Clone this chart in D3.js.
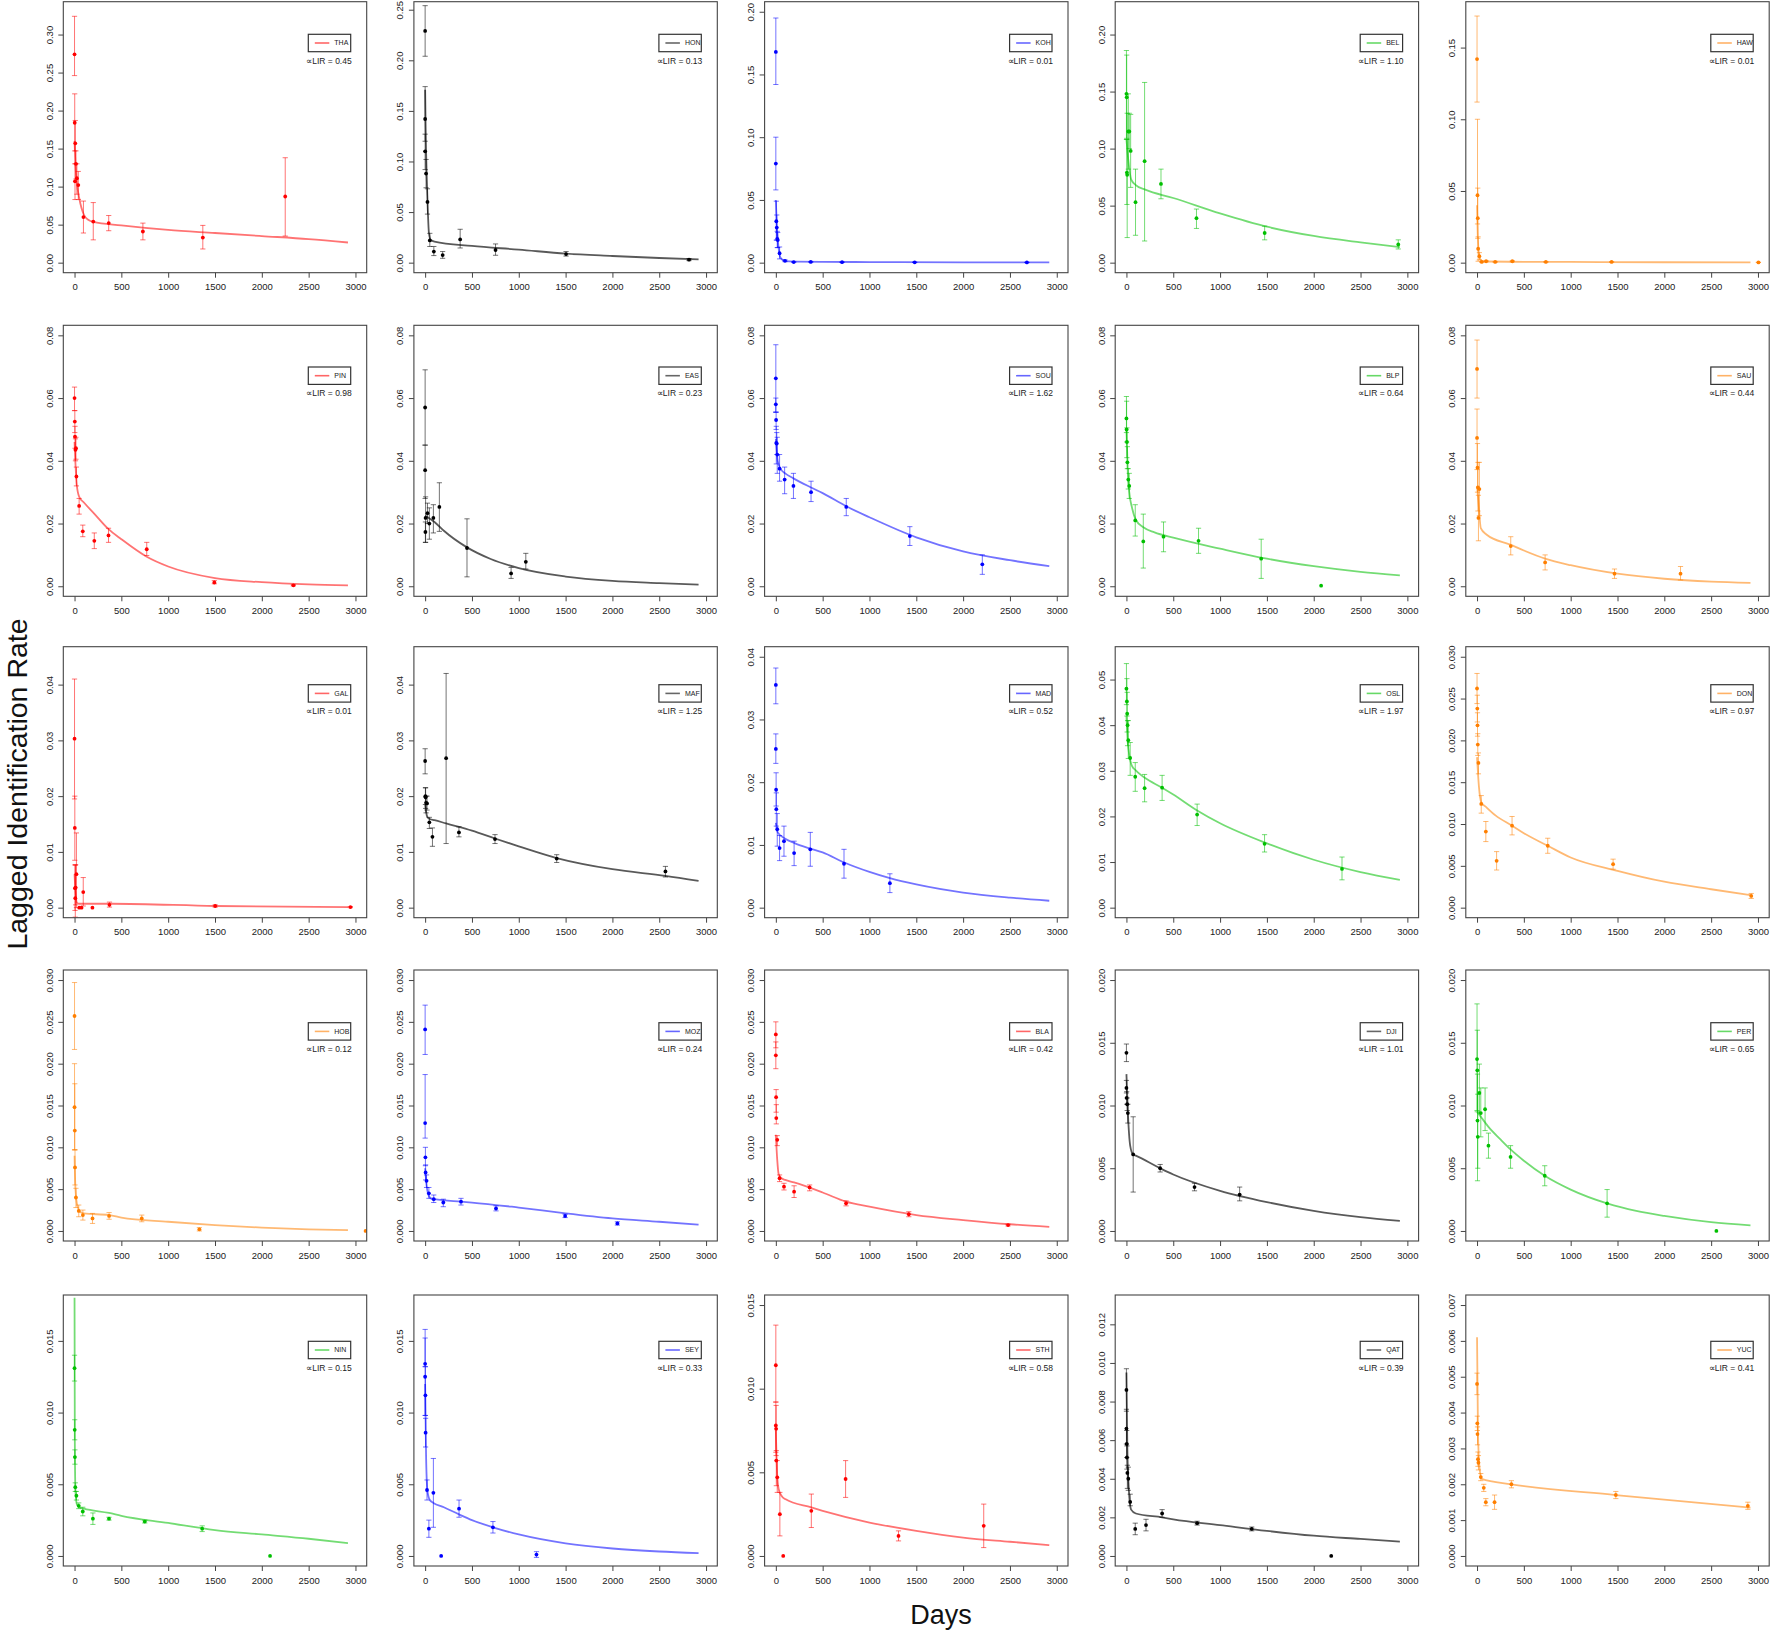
<!DOCTYPE html>
<html><head><meta charset="utf-8">
<script src="https://cdn.jsdelivr.net/npm/d3@7"></script>
<style>body{margin:0;background:#fff} text{font-family:"Liberation Sans",Arial,sans-serif}</style>
</head><body><svg id="c" width="1772" height="1631"></svg>
<script>
// ---------- tick values ----------
const xTicks = [0, 500, 1000, 1500, 2000, 2500, 3000];
const yt_030_05 = [0, 0.05, 0.10, 0.15, 0.20, 0.25, 0.30];
const yt_025_05 = [0, 0.05, 0.10, 0.15, 0.20, 0.25];
const yt_020_05 = [0, 0.05, 0.10, 0.15, 0.20];
const yt_015_05 = [0, 0.05, 0.10, 0.15];
const yt_008_02 = [0, 0.02, 0.04, 0.06, 0.08];
const yt_004_01 = [0, 0.01, 0.02, 0.03, 0.04];
const yt_005_01 = [0, 0.01, 0.02, 0.03, 0.04, 0.05];
const yt_030_005 = [0, 0.005, 0.010, 0.015, 0.020, 0.025, 0.030];
const yt_020_005 = [0, 0.005, 0.010, 0.015, 0.020];
const yt_015_005 = [0, 0.005, 0.010, 0.015];
const yt_012_002 = [0, 0.002, 0.004, 0.006, 0.008, 0.010, 0.012];
const yt_007_001 = [0, 0.001, 0.002, 0.003, 0.004, 0.005, 0.006, 0.007];

// ---------- data: points [day, rate, lower, upper], curves [day, rate] ----------
const THA_pts = [[0,0.274,0.246,0.324],[2,0.184,0.147,0.222],[8,0.157,0.130,0.187],[5,0.107,0.083,0.130],[15,0.130,0.110,0.147],[25,0.111,0.090,0.130],[40,0.102,0.083,0.120],[95,0.060,0.039,0.081],[200,0.054,0.030,0.079],[365,0.052,0.042,0.062],[730,0.041,0.030,0.052],[1370,0.033,0.018,0.049],[2250,0.087,0.035,0.138]];
const THA_fit = [[0,0.16],[10,0.128],[25,0.105],[50,0.085],[100,0.063],[150,0.056],[200,0.0535],[500,0.049],[1000,0.043],[1500,0.039],[2000,0.035],[2500,0.031],[2920,0.0265]];

const HON_pts = [[0,0.229,0.204,0.254],[0,0.142,0.120,0.174],[0,0.110,0.092,0.127],[10,0.088,0.074,0.102],[25,0.060,0.048,0.073],[50,0.022,0.016,0.029],[93,0.011,0.007,0.016],[187,0.0075,0.0043,0.011],[374,0.023,0.0145,0.033],[752,0.0125,0.0073,0.0185],[1505,0.0085,0.0065,0.011],[2818,0.003,0.002,0.004]];
const HON_fit = [[0,0.171],[5,0.135],[10,0.11],[25,0.062],[40,0.03],[60,0.0225],[100,0.0208],[500,0.0165],[1000,0.0129],[1500,0.0089],[2000,0.0066],[2500,0.0046],[2920,0.0033]];

const KOH_pts = [[0,0.168,0.142,0.195],[0,0.079,0.058,0.100],[5,0.033,0.018,0.049],[10,0.028,0.018,0.038],[15,0.019,0.012,0.025],[20,0.018,0.012,0.024],[40,0.0075,0.003,0.0125],[98,0.0015,0.0008,0.0022],[191,0.0005,0.0002,0.0008],[373,0.0006,0.0003,0.0009],[707,0.0004,0.0002,0.0006],[1483,0.0003,0.0001,0.0005],[2681,0.0002,0.0001,0.0003]];
const KOH_fit = [[0,0.05],[10,0.03],[25,0.015],[50,0.004],[100,0.0012],[200,0.0008],[500,0.0006],[1000,0.0005],[2000,0.0003],[2920,0.0002]];

const BEL_pts = [[0,0.148,0.108,0.186],[3,0.145,0.109,0.182],[5,0.079,0.051,0.108],[8,0.077,0.022,0.131],[20,0.115,0.082,0.148],[30,0.115,0.100,0.131],[45,0.098,0.066,0.130],[97,0.053,0.024,0.082],[194,0.089,0.019,0.158],[369,0.069,0.056,0.082],[748,0.039,0.030,0.047],[1476,0.026,0.020,0.032],[2903,0.016,0.012,0.020]];
const BEL_fit = [[0,0.108],[20,0.09],[50,0.073],[100,0.068],[200,0.064],[500,0.0567],[1000,0.0432],[1500,0.0315],[2000,0.0234],[2500,0.0178],[2920,0.0137]];

const HAW_pts = [[0,0.142,0.112,0.172],[5,0.047,0.027,0.100],[8,0.031,0.017,0.052],[12,0.0097,0.001,0.018],[25,0.0045,0.002,0.007],[50,0.0005,0.0002,0.0008],[97,0.001,0.0006,0.0014],[194,0.0005,0.0002,0.0008],[377,0.001,0.0006,0.0014],[735,0.0005,0.0002,0.0008],[1437,0.0005,0.0002,0.0008],[3005,0.0002,0.0001,0.0003]];
const HAW_fit = [[0,0.04],[10,0.015],[25,0.004],[50,0.0012],[100,0.0008],[500,0.0006],[1000,0.0005],[2000,0.0003],[2920,0.0002]];

const PIN_pts = [[0,0.060,0.056,0.0635],[3,0.0525,0.049,0.056],[5,0.0477,0.044,0.051],[10,0.0435,0.040,0.047],[15,0.044,0.0405,0.0475],[20,0.035,0.032,0.038],[49,0.0256,0.023,0.028],[88,0.0175,0.0158,0.0195],[211,0.0145,0.012,0.017],[363,0.0162,0.014,0.0185],[771,0.0118,0.0098,0.014],[1493,0.0012,0.0008,0.0018],[2337,0.0003,0.0001,0.0005]];
const PIN_fit = [[0,0.046],[10,0.039],[25,0.032],[50,0.0285],[100,0.0267],[200,0.0235],[363,0.0182],[500,0.015],[771,0.0094],[1000,0.0063],[1500,0.0026],[2000,0.0013],[2500,0.0006],[2920,0.0003]];

const EAS_pts = [[0,0.057,0.045,0.069],[0,0.037,0.028,0.045],[5,0.0218,0.014,0.0285],[3,0.0173,0.014,0.0205],[25,0.0233,0.020,0.0265],[45,0.020,0.015,0.025],[88,0.0218,0.017,0.026],[152,0.0253,0.0175,0.033],[447,0.0122,0.003,0.0215],[918,0.0041,0.0025,0.006],[1075,0.0078,0.0055,0.0105]];
const EAS_fit = [[0,0.0225],[100,0.0205],[200,0.0177],[447,0.0124],[700,0.0087],[1000,0.0058],[1500,0.0031],[2000,0.0017],[2500,0.001],[2920,0.0005]];

const SOU_pts = [[0,0.0663,0.0555,0.077],[0,0.058,0.0555,0.060],[3,0.053,0.050,0.0555],[5,0.0457,0.039,0.051],[10,0.0455,0.042,0.049],[15,0.042,0.036,0.0475],[40,0.0375,0.0335,0.042],[94,0.034,0.0295,0.038],[188,0.032,0.028,0.036],[376,0.030,0.027,0.0335],[752,0.0253,0.0225,0.028],[1431,0.016,0.013,0.019],[2205,0.007,0.0038,0.010]];
const SOU_fit = [[0,0.047],[20,0.04],[50,0.0375],[100,0.036],[188,0.0344],[376,0.0315],[500,0.0297],[752,0.0255],[1000,0.022],[1500,0.0156],[2000,0.0111],[2500,0.0083],[2920,0.0064]];

const BLP_pts = [[0,0.0535,0.049,0.0605],[2,0.050,0.046,0.059],[5,0.046,0.041,0.0505],[10,0.0395,0.0375,0.0445],[20,0.034,0.031,0.0375],[30,0.032,0.028,0.036],[94,0.021,0.016,0.026],[180,0.0143,0.0058,0.023],[396,0.0158,0.011,0.0205],[770,0.0145,0.0105,0.0185],[1439,0.0088,0.0025,0.015],[2079,0.0002,null,null]];
const BLP_fit = [[0,0.05],[15,0.036],[30,0.03],[60,0.025],[100,0.0212],[180,0.0188],[300,0.0172],[500,0.0155],[1000,0.012],[1500,0.0088],[2000,0.0064],[2500,0.0046],[2920,0.0035]];

const SAU_pts = [[0,0.0693,0.060,0.0785],[0,0.0473,0.0372,0.0565],[5,0.0378,0.030,0.0455],[10,0.0315,0.024,0.0395],[25,0.031,0.0225,0.0395],[15,0.0218,0.0145,0.029],[360,0.0128,0.010,0.0158],[727,0.0076,0.0052,0.010],[1468,0.004,0.0025,0.0055],[2173,0.004,0.002,0.0063]];
const SAU_fit = [[0,0.032],[20,0.025],[40,0.0185],[100,0.0165],[360,0.0132],[500,0.0114],[727,0.0088],[1000,0.0067],[1500,0.004],[2000,0.0024],[2500,0.0015],[2920,0.0011]];

const GAL_pts = [[0,0.0303,0.0195,0.041],[3,0.0143,0.0085,0.020],[5,0.0035,-0.0005,0.0077],[8,0.0017,-0.0017,0.0076],[12,0.0036,0.0005,0.0077],[20,0.006,0.0,0.0134],[50,0.0,null,null],[75,0.0,null,null],[93,0.0028,0.0003,0.0054],[191,0.0,null,null],[373,0.0005,0.0001,0.001],[1502,0.0003,0.0001,0.0005],[2946,0.0001,0.0,0.0002]];
const GAL_fit = [[0,0.006],[10,0.003],[25,0.0009],[50,0.0007],[400,0.0007],[1500,0.0003],[2920,0.0001]];

const MAF_pts = [[0,0.0263,0.024,0.0285],[3,0.020,0.0185,0.0215],[5,0.0198,0.0178,0.0215],[10,0.0188,0.017,0.020],[20,0.0187,0.0175,0.020],[45,0.0153,0.0142,0.0162],[78,0.0127,0.011,0.0143],[224,0.0268,0.0115,0.042],[361,0.0135,0.0127,0.0145],[746,0.0123,0.0115,0.0131],[1405,0.0088,0.0081,0.0095],[2566,0.0065,0.0055,0.0074]];
const MAF_fit = [[0,0.0185],[10,0.0172],[25,0.0162],[50,0.0159],[100,0.0157],[224,0.0151],[500,0.0138],[746,0.0124],[1000,0.011],[1405,0.0089],[2000,0.0069],[2566,0.0057],[2920,0.0048]];

const MAD_pts = [[0,0.0355,0.0325,0.0382],[0,0.0253,0.023,0.0277],[3,0.0188,0.0162,0.0215],[5,0.0157,0.013,0.0183],[15,0.0125,0.0098,0.015],[40,0.0095,0.0075,0.0115],[87,0.0106,0.0082,0.013],[195,0.0087,0.0067,0.0106],[368,0.0093,0.0066,0.012],[728,0.0070,0.0047,0.0093],[1218,0.0039,0.0024,0.0054]];
const MAD_fit = [[0,0.0135],[20,0.012],[100,0.011],[200,0.0103],[350,0.0095],[500,0.0088],[730,0.0072],[1000,0.0057],[1218,0.0047],[1500,0.0037],[2000,0.0024],[2500,0.0016],[2920,0.0011]];

const OSL_pts = [[0,0.048,0.0445,0.0535],[5,0.0452,0.042,0.0502],[8,0.0425,0.0385,0.0472],[12,0.040,0.0355,0.041],[20,0.0367,0.0327,0.041],[40,0.0328,0.029,0.0362],[94,0.0287,0.0255,0.0318],[194,0.0262,0.0232,0.0292],[381,0.0263,0.0235,0.029],[755,0.0204,0.018,0.0227],[1475,0.014,0.0122,0.016],[2302,0.0085,0.0061,0.0111]];
const OSL_fit = [[0,0.042],[15,0.036],[30,0.0335],[60,0.031],[100,0.0301],[200,0.0284],[381,0.0263],[500,0.0248],[755,0.0213],[1000,0.0185],[1500,0.0141],[2000,0.0105],[2500,0.0078],[2920,0.0061]];

const DON_pts = [[0,0.0262,0.0244,0.028],[3,0.0238,0.0222,0.0254],[5,0.0218,0.0205,0.0233],[8,0.0195,0.0182,0.0208],[15,0.0173,0.016,0.0185],[45,0.0124,0.0113,0.0134],[94,0.0091,0.0079,0.0103],[209,0.0056,0.0045,0.0067],[374,0.0098,0.0087,0.0109],[755,0.0074,0.0065,0.0083],[1453,0.0052,0.0046,0.0058],[2928,0.0014,0.0011,0.0017]];
const DON_fit = [[0,0.018],[20,0.0145],[45,0.0126],[100,0.012],[200,0.011],[374,0.0098],[500,0.0089],[755,0.0074],[1000,0.006],[1500,0.0044],[2000,0.0031],[2500,0.0022],[2920,0.0015]];

const HOB_pts = [[0,0.0257,0.0217,0.0297],[0,0.0148,0.0097,0.020],[3,0.012,0.0097,0.0176],[5,0.0076,0.0055,0.0097],[15,0.004,0.0028,0.0051],[45,0.0024,0.0017,0.0031],[89,0.0019,0.0013,0.0025],[192,0.0015,0.0009,0.0021],[369,0.0018,0.0014,0.0022],[718,0.0015,0.0011,0.0019],[1333,0.0002,0.0,0.0004],[3108,0.0,null,null]];
const HOB_fit = [[0,0.009],[10,0.005],[30,0.003],[60,0.0023],[100,0.0021],[369,0.0019],[500,0.0016],[1000,0.0011],[1500,0.0007],[2000,0.0004],[2500,0.0002],[2920,0.0001]];

const MOZ_pts = [[0,0.0241,0.0211,0.027],[0,0.0129,0.0111,0.0187],[3,0.0088,0.0078,0.010],[5,0.0070,0.0061,0.0079],[15,0.006,0.0052,0.0067],[40,0.0045,0.0039,0.0052],[92,0.0038,0.0034,0.0043],[194,0.0034,0.0029,0.0038],[383,0.0035,0.0031,0.0039],[757,0.0027,0.0024,0.003],[1495,0.0018,0.0016,0.002],[2053,0.0009,0.0007,0.0011]];
const MOZ_fit = [[0,0.0075],[15,0.0055],[30,0.0045],[60,0.0039],[100,0.0038],[383,0.0035],[500,0.0034],[1000,0.0028],[1500,0.0021],[2000,0.0015],[2500,0.0011],[2920,0.00075]];

const BLA_pts = [[0,0.0235,0.0219,0.025],[0,0.0210,0.0194,0.0226],[3,0.016,0.0142,0.0169],[5,0.0135,0.0128,0.0151],[15,0.0109,0.0102,0.0114],[40,0.0063,0.0059,0.0067],[87,0.0053,0.0049,0.0057],[195,0.0047,0.0040,0.0054],[361,0.0052,0.0048,0.0055],[750,0.0033,0.0030,0.0036],[1420,0.002,0.0017,0.0023],[2480,0.0007,0.0006,0.0008]];
const BLA_fit = [[0,0.0115],[15,0.0085],[30,0.0068],[60,0.0063],[100,0.0061],[195,0.0058],[500,0.0046],[750,0.0035],[1000,0.0029],[1500,0.0019],[2000,0.0013],[2500,0.0008],[2920,0.0005]];

const DJI_pts = [[0,0.0142,0.0135,0.0149],[0,0.0114,0.011,0.012],[3,0.0106,0.0101,0.0111],[8,0.0101,0.0096,0.0106],[15,0.0094,0.0086,0.0101],[72,0.0061,0.0031,0.0091],[360,0.005,0.0047,0.0053],[727,0.0035,0.0032,0.0038],[1209,0.0029,0.0024,0.0035]];
const DJI_fit = [[0,0.0125],[15,0.0095],[40,0.0068],[70,0.0061],[100,0.006],[360,0.005],[500,0.0045],[1000,0.0032],[1500,0.0023],[2000,0.0016],[2500,0.0011],[2920,0.0008]];

const PER_pts = [[0,0.0137,0.0096,0.0181],[3,0.0128,0.0095,0.016],[5,0.0088,0.004,0.0125],[8,0.0075,0.005,0.0109],[25,0.011,0.0094,0.0133],[40,0.0094,0.0075,0.0114],[86,0.0097,0.008,0.0114],[122,0.0068,0.0058,0.0078],[358,0.0059,0.005,0.0068],[723,0.0044,0.0036,0.0052],[1389,0.0022,0.0011,0.0033],[2556,0.0,null,null]];
const PER_fit = [[0,0.0095],[50,0.009],[122,0.0083],[250,0.0073],[358,0.0065],[500,0.0056],[723,0.0044],[1000,0.0033],[1389,0.0022],[1700,0.0016],[2000,0.0012],[2500,0.0007],[2920,0.00045]];

const NIN_pts = [[0,0.0131,0.0122,0.014],[2,0.0088,0.0081,0.0095],[4,0.0069,0.0064,0.0074],[8,0.0048,0.0045,0.0051],[20,0.0042,0.0039,0.0045],[45,0.0035,0.0033,0.0037],[88,0.0031,0.0028,0.0034],[196,0.0026,0.0022,0.003],[368,0.0026,0.0025,0.0027],[750,0.0024,0.0023,0.0025],[1363,0.0019,0.0017,0.0021],[2088,0.0,null,null]];
const NIN_fit = [[0,0.018],[3,0.008],[10,0.0045],[25,0.0036],[50,0.0034],[100,0.0033],[368,0.003],[500,0.0028],[1000,0.0023],[1500,0.0018],[2000,0.0015],[2500,0.0012],[2920,0.0009]];

const SEY_pts = [[0,0.0134,0.0132,0.0158],[0,0.0125,0.0098,0.0152],[3,0.0112,0.0098,0.0132],[5,0.0086,0.0076,0.0096],[20,0.0046,0.0039,0.0053],[40,0.0019,0.0013,0.0025],[88,0.0044,0.002,0.0068],[171,0.0,null,null],[362,0.0033,0.0027,0.0039],[724,0.002,0.0016,0.0024],[1189,0.0001,-0.0001,0.0003]];
const SEY_fit = [[0,0.012],[10,0.007],[25,0.0045],[50,0.0039],[88,0.0037],[200,0.0034],[362,0.0029],[500,0.0025],[724,0.002],[1000,0.0015],[1500,0.00088],[2000,0.00052],[2500,0.00031],[2920,0.0002]];

const STH_pts = [[0,0.0114,0.0092,0.0138],[0,0.0078,0.0062,0.0092],[3,0.0076,0.006,0.0090],[5,0.0057,0.0042,0.0063],[15,0.0047,0.0038,0.0057],[43,0.0025,0.0012,0.0038],[79,0.0,null,null],[379,0.0027,0.0017,0.0037],[745,0.0046,0.0035,0.0057],[1310,0.0012,0.0009,0.0015],[2220,0.0018,0.0005,0.0031]];
const STH_fit = [[0,0.0075],[15,0.0048],[30,0.004],[60,0.0036],[100,0.0034],[379,0.0029],[500,0.0027],[1000,0.002],[1500,0.0015],[2000,0.0011],[2500,0.00085],[2920,0.00065]];

const QAT_pts = [[0,0.0086,0.0075,0.0097],[0,0.0066,0.0058,0.0076],[3,0.0058,0.0051,0.0065],[5,0.0051,0.0045,0.0057],[10,0.0043,0.0035,0.0047],[20,0.004,0.0034,0.0046],[40,0.0028,0.0026,0.0032],[94,0.0014,0.0011,0.0017],[209,0.0016,0.0013,0.0019],[381,0.0022,0.002,0.0024],[755,0.0017,0.0016,0.0018],[1338,0.0014,0.0013,0.0015],[2187,0.0,null,null]];
const QAT_fit = [[0,0.0095],[10,0.0055],[25,0.0035],[50,0.0024],[100,0.0022],[381,0.002],[500,0.0019],[1000,0.0016],[1500,0.0013],[2000,0.00105],[2500,0.00088],[2920,0.00074]];

const YUC_pts = [[0,0.0048,0.0045,0.0051],[3,0.0037,0.0035,0.0039],[5,0.0034,0.0031,0.0036],[10,0.0027,0.0025,0.0029],[15,0.0026,0.0024,0.0028],[40,0.0022,0.0021,0.0023],[72,0.0019,0.0018,0.002],[94,0.0015,0.0014,0.0016],[187,0.0015,0.0013,0.0017],[367,0.002,0.0019,0.0021],[1482,0.0017,0.0016,0.0018],[2892,0.0014,0.0013,0.0015]];
const YUC_fit = [[0,0.0061],[10,0.0035],[25,0.0025],[50,0.00215],[367,0.002],[1482,0.0017],[2920,0.00135]];

// ---------- panel table (row-major) ----------
const names  = ["THA","HON","KOH","BEL","HAW","PIN","EAS","SOU","BLP","SAU","GAL","MAF","MAD","OSL","DON","HOB","MOZ","BLA","DJI","PER","NIN","SEY","STH","QAT","YUC"];
const hues   = ["red","black","blue","green","orange","red","black","blue","green","orange","red","black","blue","green","orange","orange","blue","red","black","green","green","blue","red","black","orange"];
const alphaLIR = ["0.45","0.13","0.01","1.10","0.01","0.98","0.23","1.62","0.64","0.44","0.01","1.25","0.52","1.97","0.97","0.12","0.24","0.42","1.01","0.65","0.15","0.33","0.58","0.39","0.41"];
const yMaxes = [0.33,0.248,0.2,0.22,0.175, 0.08,0.08,0.08,0.08,0.08, 0.045,0.045,0.04,0.055,0.030, 0.030,0.030,0.030,0.020,0.020, 0.0175,0.0175,0.015,0.013,0.007];
const yTickSets = [yt_030_05,yt_025_05,yt_020_05,yt_020_05,yt_015_05, yt_008_02,yt_008_02,yt_008_02,yt_008_02,yt_008_02, yt_004_01,yt_004_01,yt_004_01,yt_005_01,yt_030_005, yt_030_005,yt_030_005,yt_030_005,yt_020_005,yt_020_005, yt_015_005,yt_015_005,yt_015_005,yt_012_002,yt_007_001];
const yDecimals = [2,2,2,2,2, 2,2,2,2,2, 2,2,2,2,3, 3,3,3,3,3, 3,3,3,3,3];
const pointSets = [THA_pts,HON_pts,KOH_pts,BEL_pts,HAW_pts,PIN_pts,EAS_pts,SOU_pts,BLP_pts,SAU_pts,GAL_pts,MAF_pts,MAD_pts,OSL_pts,DON_pts,HOB_pts,MOZ_pts,BLA_pts,DJI_pts,PER_pts,NIN_pts,SEY_pts,STH_pts,QAT_pts,YUC_pts];
const fitSets = [THA_fit,HON_fit,KOH_fit,BEL_fit,HAW_fit,PIN_fit,EAS_fit,SOU_fit,BLP_fit,SAU_fit,GAL_fit,MAF_fit,MAD_fit,OSL_fit,DON_fit,HOB_fit,MOZ_fit,BLA_fit,DJI_fit,PER_fit,NIN_fit,SEY_fit,STH_fit,QAT_fit,YUC_fit];

// ---------- styling / layout ----------
const palette = {red:"#ff0000", black:"#000000", blue:"#0000ff", green:"#00c000", orange:"#ff7f00"};
const COLS = [63.3, 413.9, 764.6, 1115.2, 1465.8];
const ROWS = [1.7, 325.3, 646.7, 970, 1295];
const PW = 303.4, PH = 271;
const legendTop = [32.6, 41.7, 38, 52.7, 46.3];
const FONT = '"Liberation Sans", Arial, sans-serif';

const svg = d3.select("#c");
svg.append("rect").attr("width",1772).attr("height",1631).attr("fill","#fff");

names.forEach((name, i) => {
  const col = i % 5, row = Math.floor(i / 5);
  const color = palette[hues[i]];
  const yMax = yMaxes[i];
  const g = svg.append("g").attr("transform", `translate(${COLS[col]},${ROWS[row]})`);
  const x = d3.scaleLinear().domain([-120, 3120]).range([0, PW]);
  const y = d3.scaleLinear().domain([-0.04 * yMax, 1.04 * yMax]).range([PH, 0]);

  const clipId = "clip" + i;
  g.append("clipPath").attr("id", clipId).append("rect").attr("width", PW).attr("height", PH);

  // axes
  const fmt = d3.format("." + yDecimals[i] + "f");
  const ya = g.append("g").call(d3.axisLeft(y).tickValues(yTickSets[i]).tickFormat(fmt).tickSize(5));
  ya.select(".domain").remove();
  ya.selectAll(".tick line").attr("stroke", "#444");
  ya.selectAll(".tick text")
    .attr("x", null).attr("dy", "0.35em")
    .attr("transform", "translate(-14,0) rotate(-90)")
    .attr("text-anchor", "middle")
    .attr("fill", "#222")
    .style("font-family", FONT).style("font-size", "9.5px");

  const xa = g.append("g").attr("transform", `translate(0,${PH})`)
    .call(d3.axisBottom(x).tickValues(xTicks).tickFormat(d3.format("d")).tickSize(5).tickPadding(6));
  xa.select(".domain").remove();
  xa.selectAll(".tick line").attr("stroke", "#444");
  xa.selectAll(".tick text").attr("fill", "#222").style("font-family", FONT).style("font-size", "9.5px");

  const plot = g.append("g").attr("clip-path", `url(#${clipId})`);

  // fitted curve
  const line = d3.line().x(d => x(d[0])).y(d => y(d[1])).curve(d3.curveMonotoneX);
  plot.append("path").datum(fitSets[i])
    .attr("d", line).attr("fill", "none")
    .attr("stroke", color).attr("stroke-opacity", hues[i] === "black" ? 0.65 : 0.55)
    .attr("stroke-width", 1.8);

  // error bars
  const pts = pointSets[i];
  const eb = plot.append("g").attr("stroke", color).attr("stroke-opacity", 0.55).attr("stroke-width", 1);
  pts.filter(d => d[2] !== null && d[3] !== null).forEach(d => {
    const cx = x(d[0]);
    eb.append("line").attr("x1", cx).attr("x2", cx).attr("y1", y(d[2])).attr("y2", y(d[3]));
    eb.append("line").attr("x1", cx - 2.6).attr("x2", cx + 2.6).attr("y1", y(d[2])).attr("y2", y(d[2]));
    eb.append("line").attr("x1", cx - 2.6).attr("x2", cx + 2.6).attr("y1", y(d[3])).attr("y2", y(d[3]));
  });

  // points
  plot.selectAll("circle.pt").data(pts).enter().append("circle")
    .attr("class", "pt").attr("cx", d => x(d[0])).attr("cy", d => y(d[1]))
    .attr("r", 1.9).attr("fill", color);

  // box
  g.append("rect").attr("width", PW).attr("height", PH)
    .attr("fill", "none").attr("stroke", "#444").attr("stroke-width", 1.1);

  // legend
  const lt = legendTop[row];
  const lx = PW - 16 - 42.4;
  const lg = g.append("g").attr("transform", `translate(${lx},${lt})`);
  lg.append("rect").attr("width", 42.4).attr("height", 17.4).attr("fill", "#fff").attr("stroke", "#333").attr("stroke-width", 1.2);
  lg.append("line").attr("x1", 6.5).attr("x2", 21).attr("y1", 8.7).attr("y2", 8.7)
    .attr("stroke", color).attr("stroke-opacity", 0.6).attr("stroke-width", 1.6);
  lg.append("text").attr("x", 26).attr("y", 8.7).attr("dy", "0.35em").attr("fill", "#222")
    .style("font-family", FONT).style("font-size", "7px").text(name);
  g.append("text").attr("x", lx + 43.4).attr("y", lt + 26.4).attr("dy", "0.35em")
    .attr("text-anchor", "end").attr("fill", "#222")
    .style("font-family", FONT).style("font-size", "8.5px").text("\u221DLIR = " + alphaLIR[i]);
});

// global axis titles
svg.append("text").attr("transform", "translate(27,784) rotate(-90)")
  .attr("text-anchor", "middle").attr("fill", "#111")
  .style("font-family", FONT).style("font-size", "28.5px").text("Lagged Identification Rate");
svg.append("text").attr("x", 941).attr("y", 1624)
  .attr("text-anchor", "middle").attr("fill", "#111")
  .style("font-family", FONT).style("font-size", "27px").text("Days");
</script>
</body></html>
